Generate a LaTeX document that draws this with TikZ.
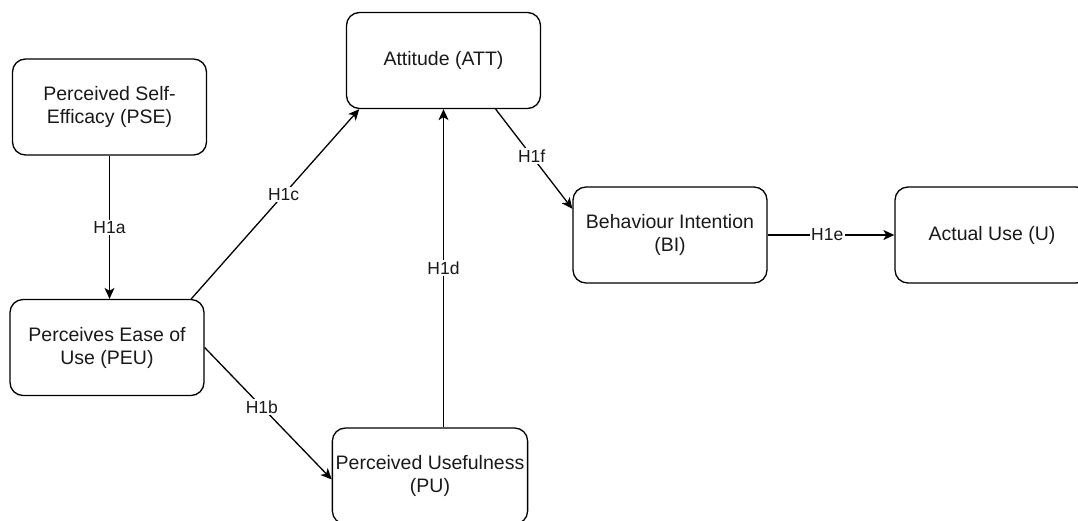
\documentclass[tikz,border=0pt]{standalone}
\usepackage{fontspec}
\setmainfont{Liberation Sans}
\usetikzlibrary{arrows.meta}

\tikzset{
  box/.style={draw, line width=1.3pt, rounded corners=13pt, minimum width=194pt, minimum height=96pt, align=center, text=black!90, font=\fontsize{19.5}{23}\selectfont},
  hyp/.style={fill=white, inner sep=1.5pt, text=black!90, font=\fontsize{17.5}{20}\selectfont},
  link/.style={line width=1.3pt, -{Stealth[length=11pt,width=10pt,inset=3pt]}}
}

\begin{document}
\begin{tikzpicture}[x=1pt,y=-1pt]
\useasboundingbox (0,0) rectangle (1078,520);

% constructs
\node[box] (pse) at (109.5,107) {Perceived Self-\\Efficacy (PSE)};
\node[box] (att) at (443.5,60.5) {Attitude (ATT)};
\node[box] (peu) at (107,347.5) {Perceives Ease of\\Use (PEU)};
\node[box] (pu) at (430,476) {Perceived Usefulness\\(PU)};
\node[box] (bi) at (670,235) {Behaviour Intention\\(BI)};
\node[box] (au) at (992,235) {Actual Use (U)};

% hypotheses
\draw[link] (pse.south) -- node[hyp]{H1a} (pse.south |- peu.north);
\draw[link] (peu.30) -- node[hyp, pos=0.55]{H1c} (att.210);
\draw[link] (peu.east) -- node[hyp, pos=0.45]{H1b} (pu.182);
\draw[link] (pu.north -| att.south) -- node[hyp]{H1d} (att.south);
\draw[link] (att.-43) -- node[hyp, pos=0.47]{H1f} (bi.165);
\draw[link] (bi) -- node[hyp, pos=0.47]{H1e} (au);
\end{tikzpicture}
\end{document}
